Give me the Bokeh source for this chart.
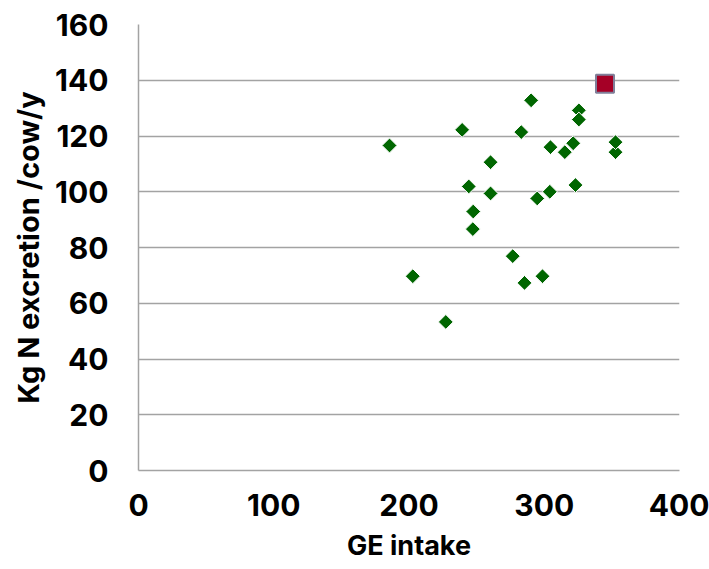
import math
from bokeh.plotting import figure
from bokeh.models import ColumnDataSource, FixedTicker, Range1d
from bokeh.embed import file_html
from bokeh.resources import INLINE

# GE intake vs N excretion (green diamonds), highlighted point (red square)
ge_intake = [185.6, 202.8, 227.2, 239.3, 244.2, 247.5, 247.2, 260.3, 260.3, 276.7,
             283.0, 285.4, 290.3, 294.8, 298.7, 304.6, 304.1, 315.2, 321.4, 323.1,
             325.6, 325.6, 352.7, 352.7]
n_excretion = [116.6, 69.7, 53.3, 122.2, 101.9, 92.9, 86.6, 110.6, 99.4, 76.9,
               121.4, 67.3, 132.8, 97.6, 69.7, 116.0, 100.0, 114.2, 117.4, 102.4,
               129.2, 125.9, 114.2, 117.8]
highlight_ge = [344.9]
highlight_n = [138.7]

x_ticks = [0, 100, 200, 300, 400]
y_ticks = [0, 20, 40, 60, 80, 100, 120, 140, 160]

FONT = "Inter"
GRID = "#a3a3a3"

p = figure(width=709, height=569, output_backend="svg", toolbar_location=None,
           x_range=Range1d(0, 400), y_range=Range1d(0, 160),
           min_border_left=138, min_border_right=30, min_border_top=24,
           min_border_bottom=99)
p.outline_line_color = None
p.background_fill_color = "white"
p.border_fill_color = "white"

p.xgrid.grid_line_color = None
p.ygrid.grid_line_color = GRID
p.ygrid.grid_line_width = 1.5
p.ygrid.ticker = FixedTicker(ticks=y_ticks)

p.xaxis.ticker = FixedTicker(ticks=x_ticks)
p.yaxis.ticker = FixedTicker(ticks=y_ticks)
for ax in (p.xaxis, p.yaxis):
    ax.axis_line_color = GRID
    ax.axis_line_width = 1.5
    ax.major_tick_line_color = None
    ax.minor_tick_line_color = None
    ax.major_tick_out = 0
    ax.major_tick_in = 0
    ax.major_label_text_font = FONT
    ax.major_label_text_font_style = "bold"
    ax.major_label_text_font_size = "30px"
    ax.major_label_text_color = "black"
    ax.axis_label_text_font = FONT
    ax.axis_label_text_font_style = "bold"
    ax.axis_label_text_color = "black"

p.xaxis.axis_label_text_font_size = "27px"
p.yaxis.axis_label_text_font_size = "29px"
p.xaxis.axis_label = "GE intake"
p.yaxis.axis_label = "Kg N excretion /cow/y"
p.xaxis.major_label_standoff = 23
p.yaxis.major_label_standoff = 30
p.xaxis.axis_label_standoff = 10
p.yaxis.axis_label_standoff = 6

src = ColumnDataSource(dict(x=ge_intake, y=n_excretion))
p.scatter("x", "y", source=src, marker="square", size=10.5, angle=math.pi / 4,
          fill_color="#006600", line_color="white", line_width=1)

src2 = ColumnDataSource(dict(x=highlight_ge, y=highlight_n))
p.scatter("x", "y", source=src2, marker="square", size=18,
          fill_color="#a50026", line_color="#80809a", line_width=2)

open("out.html", "w").write(file_html(p, INLINE))
